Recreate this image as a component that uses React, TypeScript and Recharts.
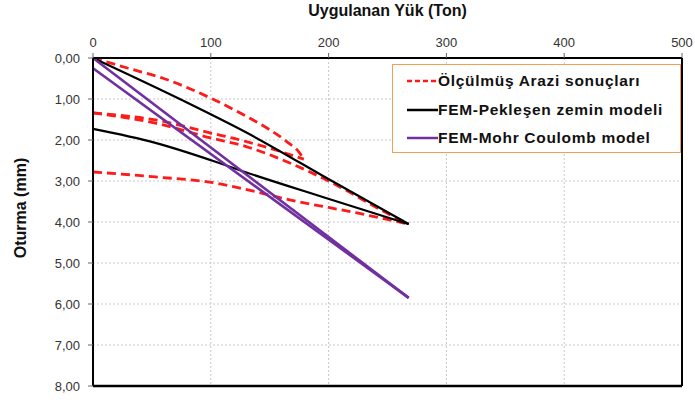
import { LineChart, Line, XAxis, YAxis, CartesianGrid, ReferenceLine } from "recharts"

// yük (ton) / oturma (mm), her dal yüke göre artan sırada
const olcumYukleme1 = [
  { p: 0, s: 0 }, { p: 30, s: 0.25 }, { p: 60, s: 0.5 }, { p: 100, s: 0.98 },
  { p: 130, s: 1.42 }, { p: 150, s: 1.75 }, { p: 165, s: 2.05 }, { p: 175, s: 2.3 }, { p: 179, s: 2.47 },
]
const olcumBosaltma1 = [
  { p: 0, s: 1.34 }, { p: 20, s: 1.39 }, { p: 53, s: 1.51 }, { p: 100, s: 1.83 },
  { p: 125, s: 2.0 }, { p: 150, s: 2.2 }, { p: 179, s: 2.47 },
]
const olcumYukleme2 = [
  { p: 0, s: 1.34 }, { p: 53, s: 1.59 }, { p: 100, s: 1.95 }, { p: 130, s: 2.16 },
  { p: 167, s: 2.56 }, { p: 210, s: 3.15 }, { p: 244, s: 3.7 }, { p: 268, s: 4.05 },
]
const olcumBosaltma2 = [
  { p: 0, s: 2.78 }, { p: 53, s: 2.9 }, { p: 104, s: 3.05 }, { p: 129, s: 3.2 },
  { p: 167, s: 3.46 }, { p: 224, s: 3.78 }, { p: 268, s: 4.05 },
]
const hsYukleme = [
  { p: 0, s: 0 }, { p: 75, s: 1.02 }, { p: 131, s: 1.83 }, { p: 204, s: 3.02 }, { p: 268, s: 4.05 },
]
const hsBosaltma = [
  { p: 0, s: 1.73 }, { p: 53, s: 2.07 }, { p: 104, s: 2.53 }, { p: 129, s: 2.78 },
  { p: 195, s: 3.39 }, { p: 268, s: 4.05 },
]
const mcYukleme = [{ p: 0, s: 0 }, { p: 268, s: 5.85 }]
const mcBosaltma = [{ p: 0, s: 0.25 }, { p: 268, s: 5.85 }]

const xTicks = [0, 100, 200, 300, 400, 500]
const yTicks = [0, 1, 2, 3, 4, 5, 6, 7, 8]

const legendItems = [
  { name: "Ölçülmüş Arazi sonuçları", color: "#ff1a1a", dash: "5 3" },
  { name: "FEM-Pekleşen zemin modeli", color: "#000000", dash: "" },
  { name: "FEM-Mohr Coulomb model", color: "#7030a0", dash: "" },
]

const FONT = "'Liberation Sans', Arial, sans-serif"

export default function App() {
  const red = { type: "monotone" as const, stroke: "#ff1a1a", strokeWidth: 2.8, strokeDasharray: "9 5", dot: false, isAnimationActive: false }
  const black = { type: "monotone" as const, stroke: "#000", strokeWidth: 2.2, dot: false, isAnimationActive: false }
  const purple = { type: "linear" as const, stroke: "#7030a0", strokeWidth: 2.6, dot: false, isAnimationActive: false }

  return (
    <div style={{ position: "absolute", left: 0, top: 0, width: 695, height: 403, background: "#fff" }}>
      <LineChart width={695} height={403} margin={{ top: 0, right: 13, bottom: 17, left: 0 }} style={{ fontFamily: FONT }}>
        <CartesianGrid stroke="#c8c8c8" strokeDasharray="2 2" />
        <XAxis
          type="number"
          dataKey="p"
          orientation="top"
          domain={[0, 500]}
          ticks={xTicks}
          height={58}
          tickSize={5}
          tickMargin={6}
          axisLine={{ stroke: "#000", strokeWidth: 2 }}
          tickLine={{ stroke: "#666" }}
          tick={{ fill: "#333", fontSize: 13 }}
          label={{ value: "Uygulanan Yük (Ton)", position: "insideTop", offset: 5, fill: "#111", fontSize: 16, fontWeight: "bold" }}
        />
        <YAxis
          type="number"
          dataKey="s"
          reversed
          domain={[0, 8]}
          ticks={yTicks}
          width={93}
          tickSize={5}
          tickMargin={8}
          tickFormatter={(v: number) => v.toFixed(2).replace(".", ",")}
          axisLine={{ stroke: "#000", strokeWidth: 2 }}
          tickLine={{ stroke: "#666" }}
          tick={{ fill: "#333", fontSize: 13 }}
          label={{
            content: () => (
              <text x={26} y={208} transform="rotate(-90 26 208)" textAnchor="middle" fill="#111" fontSize={16} fontWeight="bold" fontFamily={FONT}>
                Oturma (mm)
              </text>
            ),
          }}
        />
        <ReferenceLine x={500} stroke="#000" strokeWidth={2} />
        <ReferenceLine y={8} stroke="#000" strokeWidth={2.5} />

        <Line data={olcumYukleme1} dataKey="s" {...red} />
        <Line data={olcumBosaltma1} dataKey="s" {...red} />
        <Line data={olcumYukleme2} dataKey="s" {...red} />
        <Line data={olcumBosaltma2} dataKey="s" {...red} />
        <Line data={hsYukleme} dataKey="s" {...black} />
        <Line data={hsBosaltma} dataKey="s" {...black} />
        <Line data={mcYukleme} dataKey="s" {...purple} />
        <Line data={mcBosaltma} dataKey="s" {...purple} />
      </LineChart>

      <div style={{ position: "absolute", left: 392, top: 64, width: 289, height: 89, border: "1.5px solid #f5a050", background: "#fff", fontFamily: FONT, boxSizing: "border-box" }}>
        {legendItems.map((it, i) => (
          <div key={i} style={{ display: "flex", alignItems: "center", height: 28.5, marginTop: i === 0 ? 2 : 0 }}>
            <svg width={45} height={10}>
              <line x1={14} y1={5} x2={45} y2={5} stroke={it.color} strokeWidth={2.5} strokeDasharray={it.dash} />
            </svg>
            <span style={{ fontSize: 15.5, fontWeight: "bold", color: "#111", letterSpacing: 0.7, whiteSpace: "nowrap" }}>{it.name}</span>
          </div>
        ))}
      </div>
    </div>
  )
}
